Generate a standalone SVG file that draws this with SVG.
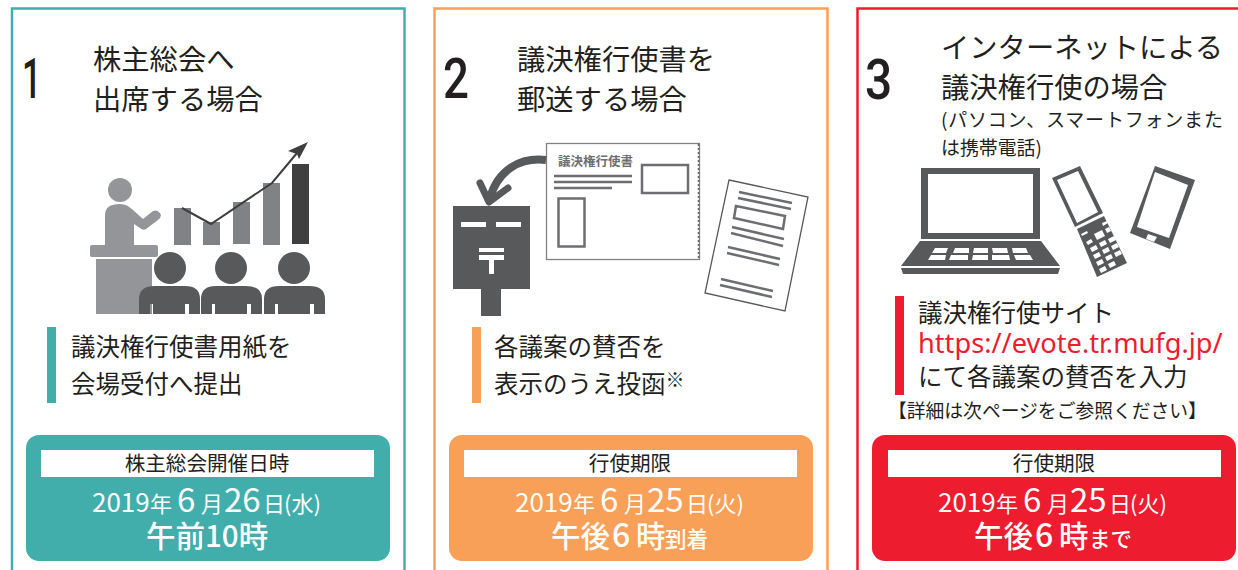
<svg xmlns="http://www.w3.org/2000/svg" width="1238" height="570" viewBox="0 0 1238 570">
<style>
text{font-family:"Noto Sans CJK JP","Noto Sans",sans-serif;fill:#231f20}
.h{font-size:28.3px}
.n{font-size:55px;font-weight:500;font-family:Roboto,"Liberation Sans",sans-serif}
.b{font-size:24.5px}
.t{font-size:20.6px;text-anchor:middle}
.w{fill:#fff;font-size:22px}
.y{font-size:26px}
.p{font-size:33px}
.u{font-size:29.500px;font-weight:500}
.s{font-size:21.5px;font-weight:500}
.d{fill:#58595b}
.g{fill:#939598}
.m{fill:#808285}
.k{fill:#3f3f3f}
.l{stroke:#6d6e71;stroke-width:2.500;fill:none}
.o{stroke:#6d6e71;stroke-width:2.500;fill:none}
</style>
<rect width="1238" height="570" fill="#fff"/>
<g id="panel1">
<path d="M12 570V8.500H404.500V570" fill="none" stroke="#41aeac" stroke-width="2.500"/>
<text class="n" transform="translate(22 98) scale(.62 1)">1</text>
<text class="h" x="93" y="70">株主総会へ</text>
<text class="h" x="93" y="110">出席する場合</text>
<g id="icon1">
<circle class="g" cx="120" cy="190" r="12"/>
<path class="g" d="M105 246V215Q105 204 120 204Q127 204 133 210L143 219L153 211Q158 209 161 215Q161 218 158 220L146 229Q143 231 140 228L134 224V246Z"/>
<rect class="g" x="90" y="245" width="68" height="12" rx="2"/>
<rect class="g" x="96" y="259" width="56" height="55"/>
<rect class="m" x="174" y="208" width="17" height="37"/>
<rect class="m" x="203" y="222" width="17" height="23"/>
<rect class="m" x="233" y="202" width="17" height="42"/>
<rect class="m" x="263" y="183" width="17" height="62"/>
<rect class="k" x="292" y="164" width="17" height="80"/>
<path d="M182 208L211 224L272 183L297 153" fill="none" stroke="#3f3f3f" stroke-width="2"/>
<path class="k" d="M308 142L288 151L297 154L299 159Z"/>
<g id="person1"><circle class="d" cx="170" cy="268" r="16"/><path class="d" d="M139 314V299Q139 286 155 286H185Q200 286 200 299V314H189V304H185V314H153V304H150V314Z"/></g>
<g id="person2"><circle class="d" cx="231" cy="268" r="16"/><path class="d" d="M201 314V299Q201 286 216 286H246Q262 286 262 299V314H251V304H247V314H215V304H212V314Z"/></g>
<g id="person3"><circle class="d" cx="294" cy="268" r="16"/><path class="d" d="M264 314V299Q264 286 279 286H309Q325 286 325 299V314H314V304H310V314H278V304H275V314Z"/></g>
</g>
<rect x="47" y="327" width="9" height="76" fill="#41aeac"/>
<text class="b" x="71" y="356">議決権行使書用紙を</text>
<text class="b" x="71" y="393">会場受付へ提出</text>
<rect x="26" y="435" width="364" height="126" rx="13" fill="#41aeac"/>
<rect x="41" y="450" width="333" height="27" fill="#fff"/>
<text class="t" x="207" y="471">株主総会開催日時</text>
<text class="w" y="512"><tspan class="y" x="92">2019</tspan><tspan x="150">年</tspan><tspan class="p" x="177">6</tspan><tspan x="201">月</tspan><tspan class="p" x="224">26</tspan><tspan x="263">日</tspan><tspan x="284">(水)</tspan></text>
<text class="w u" x="146" y="547">午前10時</text>
</g>
<g id="panel2">
<path d="M434.500 570V8.500H827.500V570" fill="none" stroke="#f9a058" stroke-width="2.500"/>
<text class="n" transform="translate(443 98) scale(.83 1)">2</text>
<text class="h" x="517" y="70">議決権行使書を</text>
<text class="h" x="517" y="110">郵送する場合</text>
<g id="icon2">
<rect x="546.500" y="143.500" width="153" height="116" fill="#fff" stroke="#808285" stroke-width="1.300"/>
<path d="M698.500 144V259" stroke="#666" stroke-width="1.500" stroke-dasharray="2 2"/>
<text x="558" y="166" font-size="12.500" font-weight="700" style="fill:#6d6e71">議決権行使書</text>
<path class="l" d="M554 176H632M554 182H632M554 188H612"/>
<rect class="o" x="642" y="165" width="46" height="28"/>
<rect class="o" x="558.500" y="198.500" width="26" height="48"/>
<path d="M546 160C520 157 498 170 490 198" fill="none" stroke="#58595b" stroke-width="8"/>
<path d="M480 183L489 202L508 188" fill="none" stroke="#58595b" stroke-width="7" stroke-linecap="round" stroke-linejoin="round"/>
<path class="d" d="M453 206H530V289H501V316H481V289H453Z"/>
<path d="M461 222H486V227H461ZM496 222H521V227H496ZM479 248H504V252H479ZM479 255H504V260H494V274H489V260H479Z" fill="#fff"/>
<path d="M729 180L808 197L785 311L705 293Z" fill="#fff" stroke="#58595b" stroke-width="1.300"/>
<path class="l" d="M739 192L792 203M738 198L791 209M732 227L784 239M731 233L783 246M728 247L780 259M727 253L779 265M721 279L773 291M720 285L772 297"/>
<path class="o" d="M736 206L785 216L783 229L734 218Z"/>
</g>
<rect x="472" y="327" width="9" height="76" fill="#f9a058"/>
<text class="b" x="494" y="356">各議案の賛否を</text>
<text class="b" x="494" y="393">表示のうえ投函<tspan font-size="19" dy="-6">※</tspan></text>
<rect x="449" y="435" width="364" height="126" rx="13" fill="#f9a058"/>
<rect x="464" y="450" width="333" height="27" fill="#fff"/>
<text class="t" x="630" y="471">行使期限</text>
<text class="w" y="512"><tspan class="y" x="515">2019</tspan><tspan x="573">年</tspan><tspan class="p" x="600">6</tspan><tspan x="624">月</tspan><tspan class="p" x="647">25</tspan><tspan x="686">日</tspan><tspan x="707">(火)</tspan></text>
<text class="w u" y="547"><tspan x="551">午後</tspan><tspan x="612" font-size="32">6</tspan><tspan x="636">時</tspan><tspan class="s" x="665">到着</tspan></text>
</g>
<g id="panel3">
<path d="M857.500 570V8.500H1238" fill="none" stroke="#ed1c2e" stroke-width="2.500"/>
<text class="n" transform="translate(865 99) scale(.87 1)">3</text>
<text class="h" x="941" y="58">インターネットによる</text>
<text class="h" x="941" y="98">議決権行使の場合</text>
<text x="941" y="127" font-size="19" letter-spacing=".8">(パソコン、スマートフォンまた</text>
<text x="941" y="155" font-size="18.900">は携帯電話)</text>
<g id="icon3">
<path class="d" fill-rule="evenodd" d="M921 168H1040V239H921ZM928 174V233H1033V174Z"/>
<path class="d" d="M920 241H1041L1060 266H901Z"/>
<path class="d" d="M901 268H1060L1058 274H903Z"/>
<path d="M935 248H948L946 253H932ZM955 248H969V253H953ZM974 248H988V253H973ZM992 248H1007L1008 253H993ZM1012 248H1026L1028 253H1013ZM931 255H946L945 260H928ZM951 255H968V260H949ZM973 255H988V260H972ZM992 255H1009L1010 260H992ZM1014 255H1030L1033 260H1016Z" fill="#fff"/>
<path class="d" fill-rule="evenodd" d="M1052 178L1080 166L1103 213L1075 227ZM1057 180L1077 223L1098 212L1078 171Z"/>
<path class="d" d="M1077 229L1104 216L1127 263L1097 277Z"/>
<path d="M1081 234L1087 231L1088 233L1082 236ZM1102 223L1107 221L1108 223L1103 226ZM1086 242L1091 239L1093 242L1088 245ZM1094 234L1102 230L1105 236L1097 240ZM1105 229L1109 227L1111 231L1107 233ZM1090 248L1096 245L1098 249L1092 252ZM1099 243L1105 240L1107 244L1101 247ZM1108 239L1114 236L1116 240L1110 243ZM1093 255L1099 252L1101 256L1095 259ZM1102 250L1108 247L1110 251L1104 254ZM1111 246L1117 243L1119 247L1113 250ZM1096 262L1102 259L1104 263L1098 266ZM1105 257L1111 254L1113 258L1107 261ZM1114 253L1120 250L1122 254L1116 257ZM1099 269L1105 266L1107 270L1101 273ZM1108 264L1114 261L1116 265L1110 268Z" fill="#fff"/>
<path class="d" fill-rule="evenodd" d="M1155 166L1195 180L1170 249L1130 233ZM1155 172L1137 227L1169 238L1188 185Z"/>
<path d="M1148 234L1157 237L1154 242L1146 239Z" fill="#fff"/>
</g>
<rect x="895" y="296" width="9" height="99" fill="#ed1c2e"/>
<text class="b" x="918" y="322">議決権行使サイト</text>
<text x="918" y="353" font-size="27.200" style="fill:#ed1c2e;font-family:'Noto Sans',sans-serif">https://evote.tr.mufg.jp/</text>
<text class="b" x="918" y="386">にて各議案の賛否を入力</text>
<text x="888" y="418" font-size="18.800">【詳細は次ページをご参照ください】</text>
<rect x="872" y="435" width="364" height="126" rx="13" fill="#ed1c2e"/>
<rect x="888" y="450" width="333" height="27" fill="#fff"/>
<text class="t" x="1054" y="471">行使期限</text>
<text class="w" y="512"><tspan class="y" x="938">2019</tspan><tspan x="996">年</tspan><tspan class="p" x="1023">6</tspan><tspan x="1047">月</tspan><tspan class="p" x="1070">25</tspan><tspan x="1109">日</tspan><tspan x="1130">(火)</tspan></text>
<text class="w u" y="547"><tspan x="974">午後</tspan><tspan x="1035" font-size="32">6</tspan><tspan x="1059">時</tspan><tspan class="s" x="1089">まで</tspan></text>
</g>
</svg>
